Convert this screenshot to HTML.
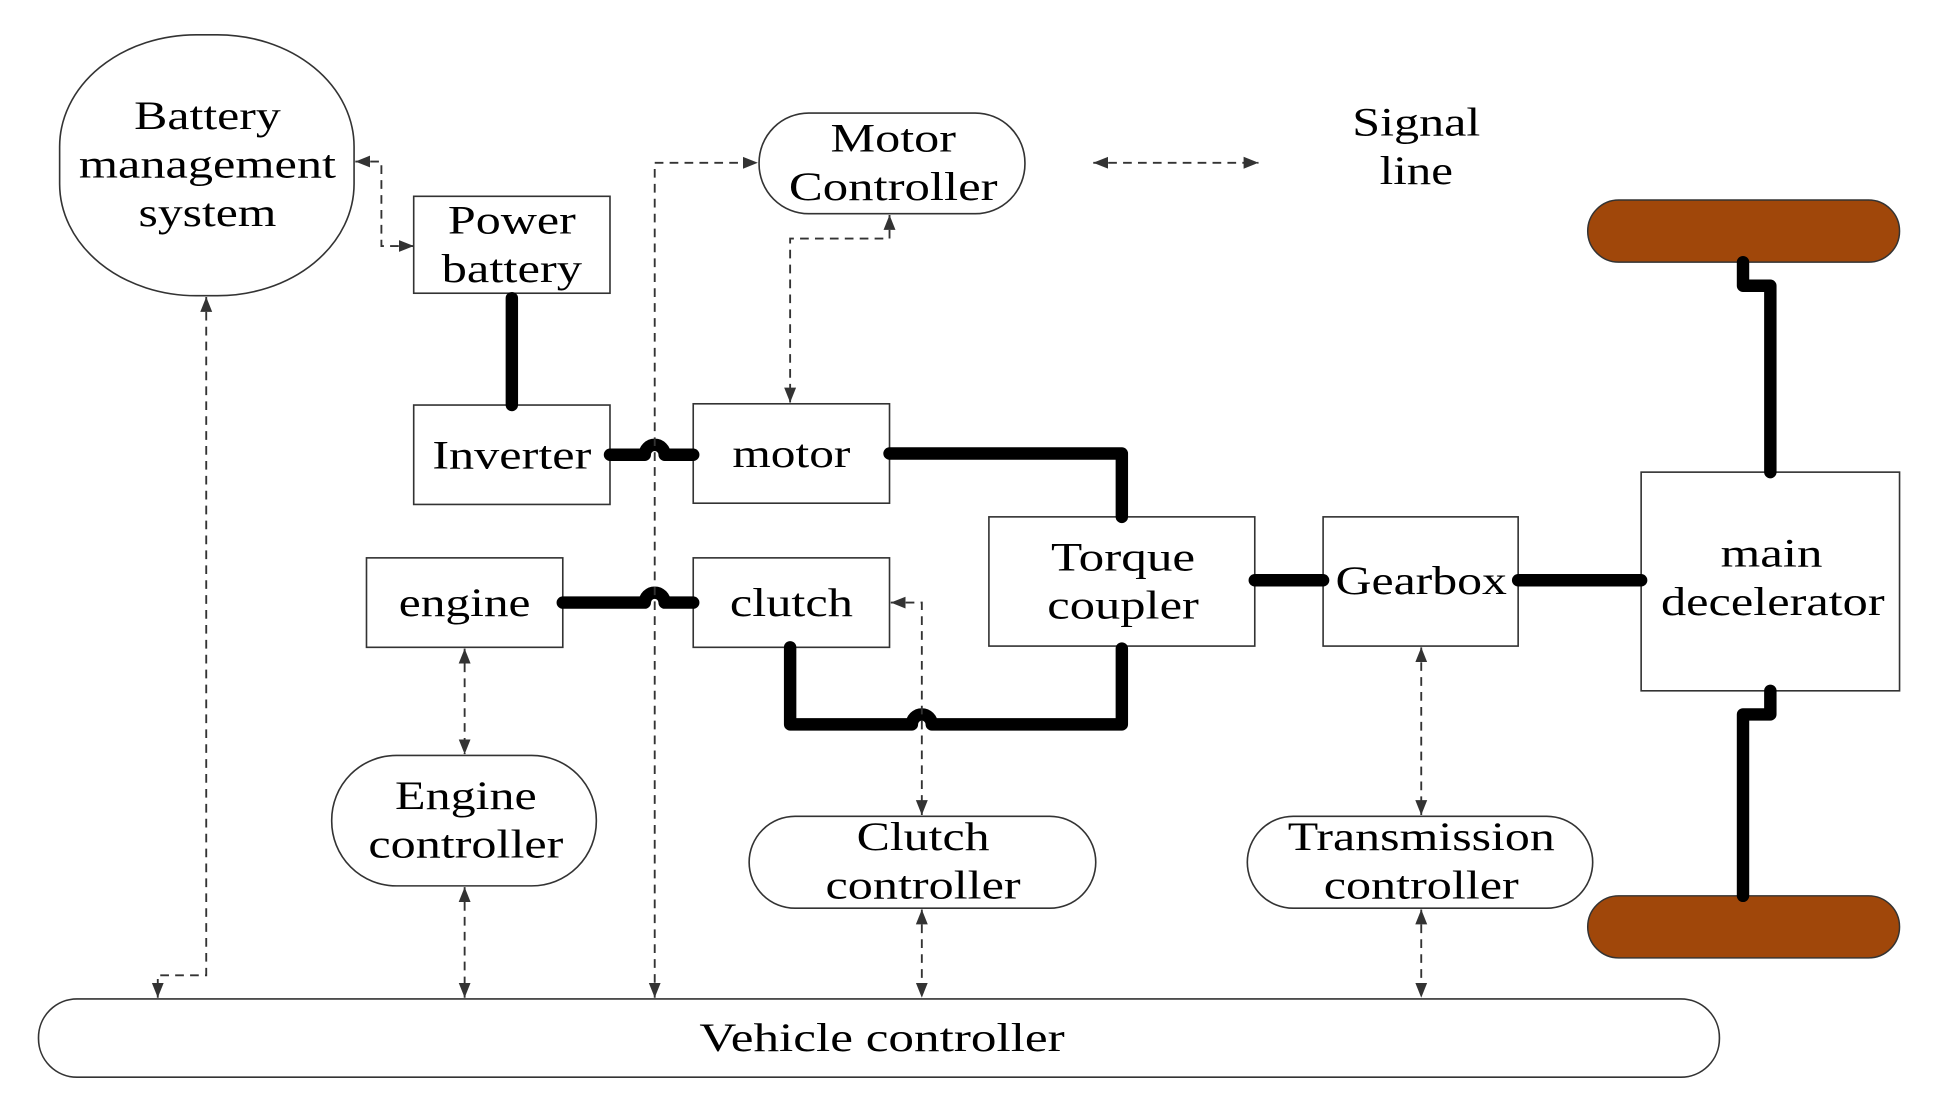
<!DOCTYPE html>
<html><head><meta charset="utf-8"><style>
html,body{margin:0;padding:0;background:#fff;}
svg{display:block;}
text{font-family:"Liberation Serif",serif;font-size:32px;fill:#000;text-anchor:middle;}
</style></head><body>
<svg width="1948" height="1112" viewBox="0 0 1568 895" preserveAspectRatio="none" xmlns="http://www.w3.org/2000/svg">
<defs>
<marker id="a" viewBox="0 0 10 10" refX="10" refY="5" markerWidth="12" markerHeight="12" markerUnits="userSpaceOnUse" orient="auto-start-reverse">
<path d="M0,1 L10,5 L0,9 z" fill="#333"/></marker>
</defs>
<g fill="#fff" stroke="#333" stroke-width="1.3">
<rect x="48" y="28" width="237" height="210" rx="110" ry="90"/>
<rect x="333" y="158" width="158" height="78"/>
<rect x="333" y="326" width="158" height="80"/>
<rect x="558" y="325" width="158" height="80"/>
<rect x="295" y="449" width="158" height="72"/>
<rect x="558" y="449" width="158" height="72"/>
<rect x="796" y="416" width="214" height="104"/>
<rect x="1065" y="416" width="157" height="104"/>
<rect x="1321" y="380" width="208" height="176"/>
<rect x="611" y="91" width="214" height="81" rx="40"/>
<rect x="267" y="608" width="213" height="105" rx="52"/>
<rect x="603" y="657" width="279" height="74" rx="37"/>
<rect x="1004" y="657" width="278" height="74" rx="37"/>
<rect x="31" y="804" width="1353" height="63" rx="31"/>
</g>
<g fill="#a0470a" stroke="#333" stroke-width="1.2">
<rect x="1278" y="161" width="251" height="50" rx="25"/>
<rect x="1278" y="721" width="251" height="50" rx="25"/>
</g>
<g fill="none" stroke="#000" stroke-width="10" stroke-linejoin="round" stroke-linecap="round">
<path d="M412,240 V326"/>
<path d="M491,366 H519 A8,8 0 0 1 535,366 H558"/>
<path d="M716,365 H903 V416"/>
<path d="M453,485 H519 A8,8 0 0 1 535,485 H558"/>
<path d="M636,521 V583 H734 A8,8 0 0 1 750,583 H903 V522"/>
<path d="M1010,467 H1065"/>
<path d="M1222,467 H1321"/>
<path d="M1425,380 V230 H1403 V211"/>
<path d="M1425,556 V575 H1403 V721"/>
</g>
<g fill="none" stroke="#333" stroke-width="1.5" stroke-dasharray="7,5">
<path d="M286,130 H307 V198 H333" marker-start="url(#a)" marker-end="url(#a)"/>
<path d="M166,239 V785 H127 V803" marker-start="url(#a)" marker-end="url(#a)"/>
<path d="M527,803 V131 H610" marker-start="url(#a)" marker-end="url(#a)"/>
<path d="M716,173 V192 H636 V324" marker-start="url(#a)" marker-end="url(#a)"/>
<path d="M374,522 V607" marker-start="url(#a)" marker-end="url(#a)"/>
<path d="M374,714 V803" marker-start="url(#a)" marker-end="url(#a)"/>
<path d="M717,485 H742 V656" marker-start="url(#a)" marker-end="url(#a)"/>
<path d="M742,732 V803" marker-start="url(#a)" marker-end="url(#a)"/>
<path d="M1144,521 V656" marker-start="url(#a)" marker-end="url(#a)"/>
<path d="M1144,732 V803" marker-start="url(#a)" marker-end="url(#a)"/>
<path d="M880,131 H1013" marker-start="url(#a)" marker-end="url(#a)"/>
</g>
<g lengthAdjust="spacingAndGlyphs">
<text x="167" y="104" textLength="118" lengthAdjust="spacingAndGlyphs">Battery</text>
<text x="167" y="143" textLength="207" lengthAdjust="spacingAndGlyphs">management</text>
<text x="167" y="182" textLength="111" lengthAdjust="spacingAndGlyphs">system</text>
<text x="412" y="188" textLength="103" lengthAdjust="spacingAndGlyphs">Power</text>
<text x="412" y="227" textLength="113" lengthAdjust="spacingAndGlyphs">battery</text>
<text x="412" y="377" textLength="128" lengthAdjust="spacingAndGlyphs">Inverter</text>
<text x="637" y="376" textLength="95" lengthAdjust="spacingAndGlyphs">motor</text>
<text x="374" y="496" textLength="106" lengthAdjust="spacingAndGlyphs">engine</text>
<text x="637" y="496" textLength="99" lengthAdjust="spacingAndGlyphs">clutch</text>
<text x="904" y="459" textLength="116" lengthAdjust="spacingAndGlyphs">Torque</text>
<text x="904" y="498" textLength="122" lengthAdjust="spacingAndGlyphs">coupler</text>
<text x="1144" y="478" textLength="138" lengthAdjust="spacingAndGlyphs">Gearbox</text>
<text x="1426" y="456" textLength="82" lengthAdjust="spacingAndGlyphs">main</text>
<text x="1427" y="495" textLength="180" lengthAdjust="spacingAndGlyphs">decelerator</text>
<text x="719" y="122" textLength="101" lengthAdjust="spacingAndGlyphs">Motor</text>
<text x="719" y="161" textLength="168" lengthAdjust="spacingAndGlyphs">Controller</text>
<text x="1140" y="109" textLength="103" lengthAdjust="spacingAndGlyphs">Signal</text>
<text x="1140" y="148" textLength="59" lengthAdjust="spacingAndGlyphs">line</text>
<text x="375" y="651" textLength="114" lengthAdjust="spacingAndGlyphs">Engine</text>
<text x="375" y="690" textLength="157" lengthAdjust="spacingAndGlyphs">controller</text>
<text x="743" y="684" textLength="107" lengthAdjust="spacingAndGlyphs">Clutch</text>
<text x="743" y="723" textLength="157" lengthAdjust="spacingAndGlyphs">controller</text>
<text x="1144" y="684" textLength="215" lengthAdjust="spacingAndGlyphs">Transmission</text>
<text x="1144" y="723" textLength="157" lengthAdjust="spacingAndGlyphs">controller</text>
<text x="710" y="846" textLength="294" lengthAdjust="spacingAndGlyphs">Vehicle controller</text>
</g>
</svg>
</body></html>
